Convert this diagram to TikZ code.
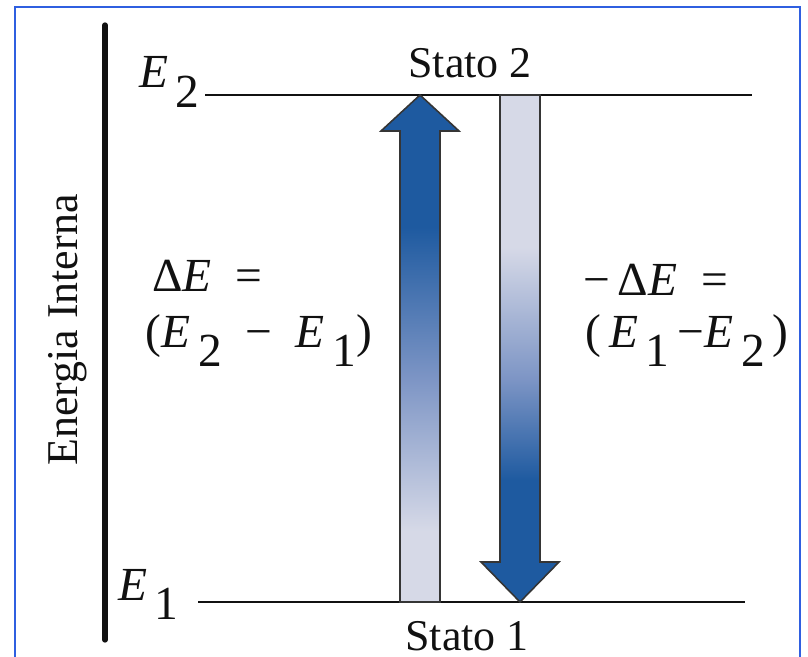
\documentclass[tikz,border=0pt]{standalone}
\usepackage{fontspec}
\setmainfont{Liberation Serif}
\usepackage{tikz}
\usetikzlibrary{calc,positioning}
\definecolor{FrameBlue}{HTML}{2F5FE0}
\definecolor{ArrowBlue}{HTML}{1E5AA0}
\definecolor{ArrowMid}{HTML}{7D95C5}
\definecolor{ArrowPale}{HTML}{D6D9E7}
\definecolor{LevelInk}{HTML}{111111}
\pgfdeclareverticalshading{upfade}{100bp}{color(0bp)=(ArrowPale); color(32bp)=(ArrowPale); color(47bp)=(ArrowMid); color(62bp)=(ArrowBlue); color(100bp)=(ArrowBlue)}
\pgfdeclareverticalshading{downfade}{100bp}{color(0bp)=(ArrowBlue); color(37bp)=(ArrowBlue); color(47bp)=(ArrowMid); color(60bp)=(ArrowPale); color(100bp)=(ArrowPale)}
\newcommand{\Esub}[1]{\textit{E}\,\raisebox{-0.42em}{#1}}
\tikzset{
  figtext/.style={font=\fontsize{25}{30}\selectfont, text=LevelInk, inner sep=0pt},
  mathtext/.style={figtext, font=\fontsize{27}{32}\selectfont},
  levelline/.style={draw=LevelInk, line width=1.6pt},
  axisline/.style={draw=LevelInk, line width=3pt, line cap=round},
  frameline/.style={draw=FrameBlue, line width=1.6pt},
  bigarrow/.style={draw=LevelInk!85, line width=0.9pt, line join=miter}
}

\begin{document}
\begin{tikzpicture}[every node/.style={figtext}]
\useasboundingbox (0,0) rectangle (16.16,-13.14);
\draw[frameline] (0.30,-13.14) |- (16.00,-0.14) -- (16.00,-13.14);
% energy axis
\coordinate (axisTop) at (2.10,-0.50);
\coordinate (axisBot) at (2.10,-12.80);
\draw[axisline] (axisTop) -- (axisBot);
\node[rotate=90] (axislab) at (1.36,-6.60) {Energia Interna};
% levels
\coordinate (e2L) at (4.10,-1.90);
\coordinate (e2R) at (15.04,-1.90);
\coordinate (e1L) at (3.96,-12.04);
\coordinate (e1R) at (14.90,-12.04);
\draw[levelline] (e2L) -- (e2R);
\draw[levelline] (e1L) -- (e1R);
\node[mathtext, anchor=base east] (e2lab) at (4.00,-1.76) {\Esub{2}};
\node[mathtext, anchor=base east] (e1lab) at (3.58,-12.00) {\Esub{1}};
\node[anchor=base] (stato2) at (9.40,-1.56) {Stato 2};
\node[anchor=base] (stato1) at (9.34,-13.00) {Stato 1};
% absorption and emission
\coordinate (upBase) at (8.40,-12.04);
\coordinate (upTip) at (8.40,-1.90);
\coordinate (dnTop) at (10.40,-1.90);
\coordinate (dnTip) at (10.40,-12.04);
\path[bigarrow, shade, shading=upfade] ($(upBase)+(-0.40,0)$) -- ($(upTip)+(-0.40,-0.72)$) -- ($(upTip)+(-0.78,-0.72)$) -- (upTip) -- ($(upTip)+(0.78,-0.72)$) -- ($(upTip)+(0.40,-0.72)$) -- ($(upBase)+(0.40,0)$) -- cycle;
\path[bigarrow, shade, shading=downfade] ($(dnTop)+(-0.40,0)$) -- ($(dnTip)+(-0.40,0.80)$) -- ($(dnTip)+(-0.78,0.80)$) -- (dnTip) -- ($(dnTip)+(0.78,0.80)$) -- ($(dnTip)+(0.40,0.80)$) -- ($(dnTop)+(0.40,0)$) -- cycle;
% energy differences
\node[mathtext, anchor=base west] (dEup) at (3.04,-5.84) {Δ\textit{E}\enspace =};
\node[mathtext, anchor=base west] (dEupval) at (2.90,-6.94) {(\Esub{2}\enspace −\enspace\Esub{1})};
\node[mathtext, anchor=base west] (dEdn) at (11.66,-5.92) {−\,Δ\textit{E}\enspace =};
\node[mathtext, anchor=base west] (dEdnval) at (11.70,-6.94) {(\,\Esub{1}\,−\Esub{2}\,)};
\end{tikzpicture}
\end{document}
